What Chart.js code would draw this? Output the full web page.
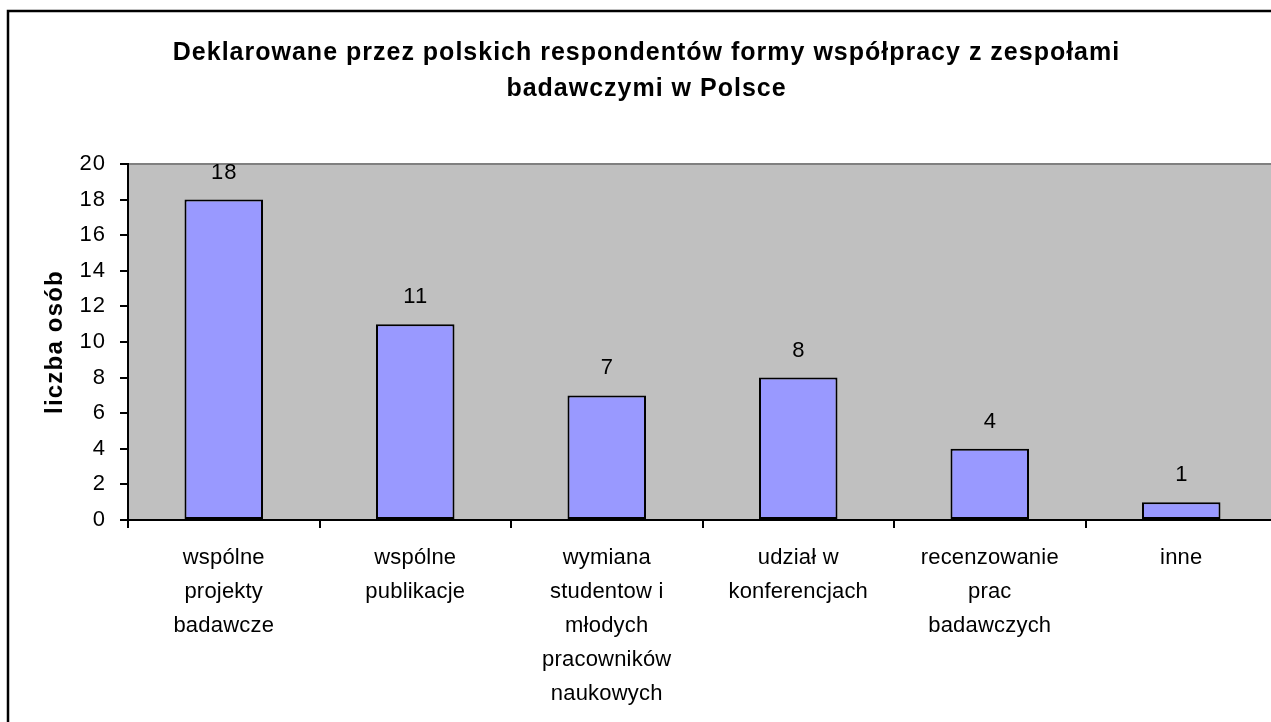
<!DOCTYPE html>
<html>
<head>
<meta charset="utf-8">
<script src="https://cdn.jsdelivr.net/npm/chart.js@4/dist/chart.umd.min.js"></script>
<style>
html,body{margin:0;padding:0;background:#fff;overflow:hidden;}
#wrap{position:absolute;left:0;top:0;width:1290px;height:722px;}
</style>
</head>
<body>
<div id="wrap"><canvas id="c" width="1290" height="722"></canvas></div>
<script>
const categories = [
  ["wspólne", "projekty", "badawcze"],
  ["wspólne", "publikacje"],
  ["wymiana", "studentow i", "młodych", "pracowników", "naukowych"],
  ["udział w", "konferencjach"],
  ["recenzowanie", "prac", "badawczych"],
  ["inne"]
];
const counts = [18, 11, 7, 8, 4, 1];
const yTicks = [0, 2, 4, 6, 8, 10, 12, 14, 16, 18, 20];
const titleLines = ["Deklarowane przez polskich respondentów formy współpracy z zespołami", "badawczymi w Polsce"];
const yTitle = "liczba osób";

const FONT = "'Liberation Sans', Arial, sans-serif";
const NUM_SP = 1;
const X_SP = 0.2;
const TITLE_SP = 1;
const YTITLE_SP = 1.2;

const framePlugin = {
  id: 'frame',
  beforeDraw(chart) {
    const ctx = chart.ctx;
    const a = chart.chartArea;
    ctx.save();
    ctx.fillStyle = '#fff';
    ctx.fillRect(0, 0, chart.width, chart.height);
    ctx.strokeStyle = '#000';
    ctx.lineWidth = 2.5;
    ctx.strokeRect(8, 11, chart.width + 50, chart.height + 50);
    ctx.fillStyle = '#C0C0C0';
    ctx.fillRect(a.left, a.top, a.right - a.left, a.bottom - a.top);
    ctx.strokeStyle = '#808080';
    ctx.lineWidth = 2;
    ctx.beginPath();
    ctx.moveTo(a.left, a.top);
    ctx.lineTo(a.right, a.top);
    ctx.lineTo(a.right, a.bottom);
    ctx.stroke();
    ctx.restore();
  },
  afterDraw(chart) {
    const ctx = chart.ctx;
    ctx.save();
    ctx.font = "bold 25px " + FONT;
    ctx.letterSpacing = TITLE_SP + 'px';
    ctx.fillStyle = '#000';
    ctx.textAlign = 'center';
    ctx.textBaseline = 'middle';
    const cx = 646 + TITLE_SP / 2;
    titleLines.forEach((t, i) => ctx.fillText(t, cx, 53 + i * 36));
    ctx.restore();
  }
};

const valueLabels = {
  id: 'valueLabels',
  afterDatasetsDraw(chart) {
    const ctx = chart.ctx;
    const meta = chart.getDatasetMeta(0);
    ctx.save();
    ctx.font = "22px " + FONT;
    ctx.letterSpacing = NUM_SP + 'px';
    ctx.fillStyle = '#000';
    ctx.textAlign = 'center';
    ctx.textBaseline = 'middle';
    meta.data.forEach((bar, i) => {
      ctx.fillText(String(counts[i]), bar.x + NUM_SP / 2, bar.y - 27);
    });
    ctx.restore();
  }
};

const chart = new Chart(document.getElementById('c'), {
  type: 'bar',
  data: {
    labels: categories,
    datasets: [{
      data: counts,
      backgroundColor: '#9999FF',
      borderColor: '#000',
      borderWidth: 2,
      borderSkipped: false,
      categoryPercentage: 1,
      barPercentage: 0.41
    }]
  },
  options: {
    responsive: false,
    animation: false,
    devicePixelRatio: 1,
    layout: { padding: { left: 0, right: 13, top: 164, bottom: 0 } },
    plugins: {
      legend: { display: false },
      tooltip: { enabled: false },
      title: { display: false }
    },
    scales: {
      x: {
        offset: true,
        border: { display: true, color: '#000', width: 2 },
        grid: { offset: true, drawOnChartArea: false, drawTicks: true, tickLength: 8, color: '#000', lineWidth: 2 },
        ticks: {
          color: '#000',
          padding: 13,
          maxRotation: 0,
          autoSkip: false,
          font: { family: FONT, size: 22, lineHeight: 1.545 }
        },
        afterFit(s) { s.height = 202; }
      },
      y: {
        min: 0,
        max: 20,
        afterBuildTicks(s) { s.ticks = yTicks.map(v => ({ value: v })); },
        border: { display: true, color: '#000', width: 2 },
        grid: { drawOnChartArea: false, drawTicks: true, tickLength: 8, color: '#000', lineWidth: 2 },
        ticks: {
          color: '#000',
          padding: 15 - NUM_SP,
          font: { family: FONT, size: 22 }
        },
        title: {
          display: true,
          text: yTitle,
          color: '#000',
          font: { family: FONT, size: 24, weight: 'bold' },
          padding: { top: 41, bottom: 0 }
        },
        afterFit(s) { s.width = 128; }
      }
    }
  },
  plugins: [framePlugin, valueLabels]
});

function spaced(scale, method, sp) {
  const orig = scale[method].bind(scale);
  scale[method] = function (...args) {
    const c = this.ctx;
    const prev = c.letterSpacing;
    c.letterSpacing = sp + 'px';
    orig(...args);
    c.letterSpacing = prev;
  };
}
spaced(chart.scales.x, 'drawLabels', X_SP);
spaced(chart.scales.y, 'drawLabels', NUM_SP);
spaced(chart.scales.y, 'drawTitle', YTITLE_SP);
chart.draw();
</script>
</body>
</html>
